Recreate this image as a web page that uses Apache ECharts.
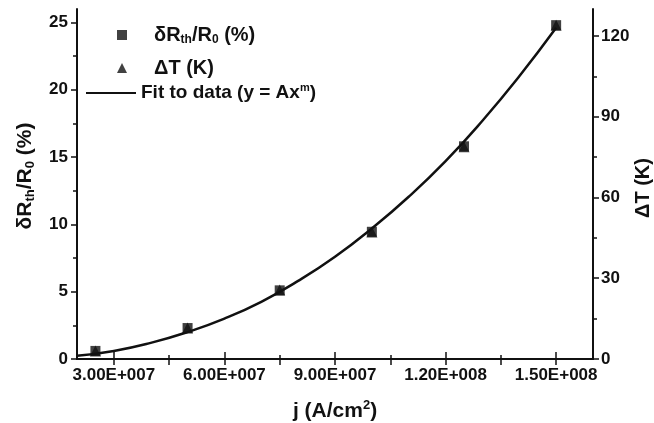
<!DOCTYPE html>
<html>
<head>
<meta charset="utf-8">
<script src="https://cdn.jsdelivr.net/npm/echarts@6/dist/echarts.min.js"></script>
<style>
  html, body { margin: 0; padding: 0; background: #fff; }
  #chart { width: 654px; height: 423px; }
</style>
</head>
<body>
<div id="chart"></div>
<script>
// measured points: current density j (A/cm2)
var jValues = [2.5e7, 5.0e7, 7.5e7, 1.0e8, 1.25e8, 1.5e8];
// relative thermal resistance change (%)
var dRValues = [0.6, 2.3, 5.1, 9.45, 15.8, 24.8];
// temperature rise (K)
var dTValues = [3.0, 11.5, 25.6, 47.2, 78.8, 124.0];
// fit curve
var fitJ = [2.0e7, 3.0e7, 4.0e7, 5.0e7, 6.0e7, 7.0e7, 8.0e7, 9.0e7, 1.0e8, 1.1e8, 1.2e8, 1.3e8, 1.4e8, 1.5e8];
var fitY = [0.24, 0.6, 1.2, 2.0, 3.0, 4.25, 5.8, 7.6, 9.7, 12.05, 14.7, 17.7, 21.0, 24.6];
// tick labels
var xLabelTicks = [3e7, 6e7, 9e7, 1.2e8, 1.5e8];
var xMinorTicks = [4.5e7, 7.5e7, 1.05e8, 1.35e8];
var xTopTicks = [3e7, 4.5e7, 6e7, 7.5e7, 9e7, 1.05e8, 1.2e8, 1.35e8, 1.5e8];
var yLeftTicks = [0, 5, 10, 15, 20, 25];
var yLeftMinor = [2.5, 7.5, 12.5, 17.5, 22.5];
var yRightTicks = [0, 30, 60, 90, 120];
var yRightMinor = [15, 45, 75, 105];

var FONT = "'Liberation Sans', Arial, sans-serif";
var INK = "#111";

function zip(a, b) {
  var out = [];
  for (var i = 0; i < a.length; i++) out.push([a[i], b[i]]);
  return out;
}

function fmtE(v) {
  var e = Math.floor(Math.log10(v) + 1e-9);
  var m = v / Math.pow(10, e);
  var es = String(e);
  while (es.length < 3) es = "0" + es;
  return m.toFixed(2) + "E+" + es;
}

// rich text styles for sub/superscripts
function richSet(size, lh) {
  var small = Math.round(size * 0.6);
  return {
    b: { fontFamily: FONT, fontWeight: "bold", fontSize: size, color: INK, lineHeight: lh },
    s: { fontFamily: FONT, fontWeight: "bold", fontSize: small, color: INK, lineHeight: lh, verticalAlign: "bottom", padding: [9, 0, 0, 0] },
    p: { fontFamily: FONT, fontWeight: "bold", fontSize: small, color: INK, lineHeight: lh, verticalAlign: "top", padding: [0, 0, 7, 0] }
  };
}

var axisLine = { show: true, lineStyle: { color: INK, width: 2 } };
var labelStyle = { fontFamily: FONT, fontWeight: "bold", fontSize: 17, color: INK };
var tickLine = { color: INK, width: 1.5 };

function legendText(name) {
  if (name === "dR") return "{b|δR}{s|th}{b|/R}{s|0}{b| (%)}";
  if (name === "dT") return "{b|ΔT (K)}";
  return "{b|Fit to data (y = Ax}{p|m}{b|)}";
}

var option = {
  backgroundColor: "#fff",
  animation: false,
  grid: { left: 77, right: 61, top: 9, bottom: 64, outerBoundsMode: "none" },
  legend: [
    {
      orient: "vertical",
      left: 112,
      top: 20,
      itemWidth: 10,
      itemHeight: 10,
      itemGap: 12,
      data: [
        { name: "dR", icon: "rect" },
        { name: "dT", icon: "triangle" }
      ],
      formatter: legendText,
      textStyle: { padding: [0, 0, 0, 22], rich: richSet(20, 22) }
    },
    {
      orient: "vertical",
      left: 80,
      top: 77,
      itemWidth: 50,
      itemHeight: 10,
      data: [
        { name: "fit", itemStyle: { opacity: 0 } }
      ],
      formatter: legendText,
      textStyle: { rich: richSet(19, 22) }
    }
  ],
  xAxis: [
    {
      type: "value",
      position: "bottom",
      min: 2e7,
      max: 1.6e8,
      name: "{b|j (A/cm}{p|2}{b|)}",
      nameLocation: "middle",
      nameGap: 40,
      nameTextStyle: { rich: richSet(21, 24) },
      axisLine: axisLine,
      splitLine: { show: false },
      axisTick: { show: true, inside: true, length: 7, customValues: xLabelTicks, lineStyle: tickLine },
      axisLabel: Object.assign({ customValues: xLabelTicks, margin: 8, formatter: fmtE }, labelStyle)
    },
    {
      type: "value",
      position: "bottom",
      min: 2e7,
      max: 1.6e8,
      axisLine: { show: false },
      splitLine: { show: false },
      axisTick: { show: true, inside: true, length: 4, customValues: xMinorTicks, lineStyle: tickLine },
      axisLabel: { show: false }
    },
    {
      type: "value",
      position: "top",
      min: 2e7,
      max: 1.6e8,
      axisLine: axisLine,
      splitLine: { show: false },
      axisTick: { show: true, inside: true, length: 6, customValues: xTopTicks, lineStyle: tickLine },
      axisLabel: { show: false }
    }
  ],
  yAxis: [
    {
      type: "value",
      position: "left",
      min: 0,
      max: 26,
      name: "{b|δR}{s|th}{b|/R}{s|0}{b| (%)}",
      nameLocation: "middle",
      nameGap: 40,
      nameTextStyle: { padding: [0, 0, 0, 16], rich: richSet(21, 24) },
      axisLine: axisLine,
      splitLine: { show: false },
      axisTick: { show: true, inside: false, length: 6, customValues: yLeftTicks, lineStyle: tickLine },
      axisLabel: Object.assign({ customValues: yLeftTicks, margin: 9 }, labelStyle)
    },
    {
      type: "value",
      position: "right",
      min: 0,
      max: 130,
      name: "ΔT (K)",
      nameLocation: "middle",
      nameGap: 40,
      nameRotate: 90,
      nameMoveOverlap: false,
      nameTextStyle: { fontFamily: FONT, fontWeight: "bold", fontSize: 20, color: INK, padding: [0, 8, 0, 0] },
      axisLine: axisLine,
      splitLine: { show: false },
      axisTick: { show: true, inside: false, length: 6, customValues: yRightTicks, lineStyle: tickLine },
      axisLabel: Object.assign({ customValues: yRightTicks, margin: 8 }, labelStyle)
    },
    {
      type: "value",
      position: "left",
      min: 0,
      max: 26,
      axisLine: { show: false },
      splitLine: { show: false },
      axisTick: { show: true, inside: false, length: 4, customValues: yLeftMinor, lineStyle: tickLine },
      axisLabel: { show: false }
    },
    {
      type: "value",
      position: "right",
      min: 0,
      max: 130,
      axisLine: { show: false },
      splitLine: { show: false },
      axisTick: { show: true, inside: false, length: 4, customValues: yRightMinor, lineStyle: tickLine },
      axisLabel: { show: false }
    }
  ],
  series: [
    {
      name: "fit",
      type: "line",
      xAxisIndex: 0,
      yAxisIndex: 0,
      smooth: true,
      symbol: "none",
      data: zip(fitJ, fitY),
      lineStyle: { color: INK, width: 2.5 },
      itemStyle: { color: INK },
      z: 3
    },
    {
      name: "dT",
      type: "scatter",
      xAxisIndex: 0,
      yAxisIndex: 1,
      symbol: "triangle",
      symbolSize: 11,
      data: zip(jValues, dTValues),
      itemStyle: { color: INK },
      z: 4
    },
    {
      name: "dR",
      type: "scatter",
      xAxisIndex: 0,
      yAxisIndex: 0,
      symbol: "rect",
      symbolSize: 10,
      data: zip(jValues, dRValues),
      itemStyle: { color: INK },
      z: 5
    }
  ]
};

var chart = echarts.init(document.getElementById("chart"));
chart.setOption(option);
</script>
</body>
</html>
